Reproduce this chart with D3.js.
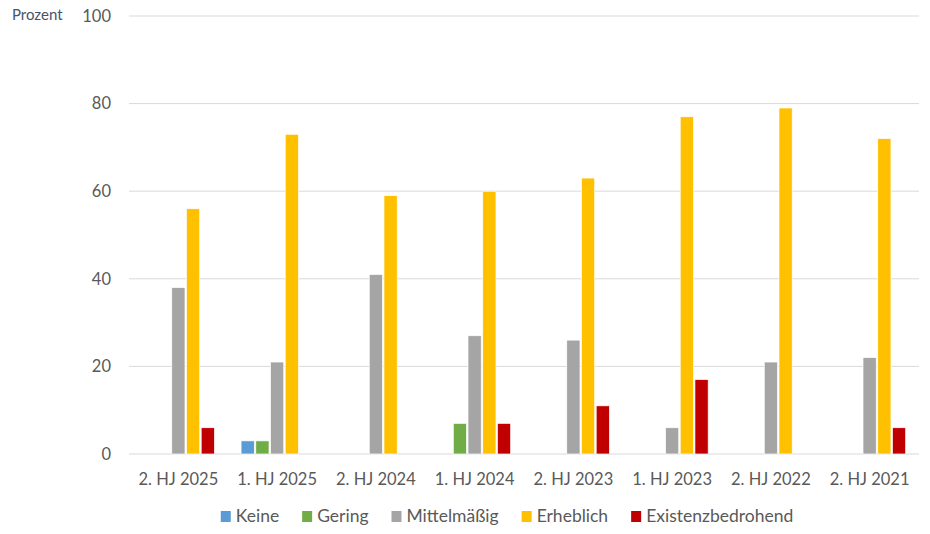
<!DOCTYPE html>
<html>
<head>
<meta charset="utf-8">
<script src="https://cdn.jsdelivr.net/npm/d3@7"></script>
<style>
body { margin: 0; background: #fff; }
text { font-family: Lato, "Open Sans", sans-serif; }
</style>
</head>
<body>
<div id="chart"></div>
<script>
var categories = ["2. HJ 2025", "1. HJ 2025", "2. HJ 2024", "1. HJ 2024", "2. HJ 2023", "1. HJ 2023", "2. HJ 2022", "2. HJ 2021"];
var seriesNames = ["Keine", "Gering", "Mittelmäßig", "Erheblich", "Existenzbedrohend"];
var seriesColors = ["#5B9BD5", "#70AD47", "#A5A5A5", "#FFC000", "#C00000"];
var keine = [0, 3, 0, 0, 0, 0, 0, 0];
var gering = [0, 3, 0, 7, 0, 0, 0, 0];
var mittel = [38, 21, 41, 27, 26, 6, 21, 22];
var erheblich = [56, 73, 59, 60, 63, 77, 79, 72];
var existenz = [6, 0, 0, 7, 11, 17, 0, 6];
var yTicks = [0, 20, 40, 60, 80, 100];

var seriesValues = [keine, gering, mittel, erheblich, existenz];

var margin = {top: 16, right: 11, bottom: 80, left: 129},
    width = 930 - margin.left - margin.right,
    height = 534 - margin.top - margin.bottom;

var svg = d3.select("#chart")
  .append("svg")
  .attr("width", 930)
  .attr("height", 534);

var g = svg.append("g")
  .attr("transform", "translate(" + margin.left + "," + margin.top + ")");

var x0 = d3.scaleBand()
  .domain(categories)
  .range([0, width])
  .paddingInner(0.24)
  .paddingOuter(0.12);

var x1 = d3.scaleBand()
  .domain(seriesNames)
  .range([0, x0.bandwidth()])
  .padding(0.1);

var y = d3.scaleLinear()
  .domain([0, 100])
  .range([height, 0]);

// gridlines
g.selectAll(".grid")
  .data(yTicks)
  .enter()
  .append("line")
  .attr("x1", 0)
  .attr("x2", width)
  .attr("y1", function(d) { return y(d); })
  .attr("y2", function(d) { return y(d); })
  .attr("stroke", "#D9D9D9")
  .attr("stroke-width", 1);

// y tick labels
g.selectAll(".ylab")
  .data(yTicks)
  .enter()
  .append("text")
  .attr("x", -18)
  .attr("y", function(d) { return y(d); })
  .attr("dy", "0.35em")
  .attr("text-anchor", "end")
  .attr("fill", "#595959")
  .style("font-size", "16.5px")
  .text(function(d) { return d; });

svg.append("text")
  .attr("x", 12)
  .attr("y", 15)
  .attr("dy", "0.35em")
  .attr("fill", "#44546A")
  .style("font-size", "15px")
  .text("Prozent");

// bars
var rows = [];
categories.forEach(function(c, i) {
  seriesNames.forEach(function(s, j) {
    rows.push({cat: c, series: s, color: seriesColors[j], value: seriesValues[j][i]});
  });
});

g.selectAll(".bar")
  .data(rows.filter(function(d) { return d.value > 0; }))
  .enter()
  .append("rect")
  .attr("x", function(d) { return x0(d.cat) + x1(d.series); })
  .attr("y", function(d) { return y(d.value); })
  .attr("width", x1.bandwidth())
  .attr("height", function(d) { return y(0) - y(d.value); })
  .attr("fill", function(d) { return d.color; })
  .attr("stroke", "#fff")
  .attr("stroke-width", 0.7);

// x labels
g.selectAll(".xlab")
  .data(categories)
  .enter()
  .append("text")
  .attr("x", function(d) { return x0(d) + x0.bandwidth() / 2; })
  .attr("y", height + 25)
  .attr("dy", "0.35em")
  .attr("text-anchor", "middle")
  .attr("fill", "#595959")
  .style("font-size", "16.5px")
  .text(function(d) { return d; });

// legend
var legend = svg.append("g");
var lx = 0;
seriesNames.forEach(function(s, j) {
  var item = legend.append("g").attr("transform", "translate(" + lx + ",0)");
  item.append("rect")
    .attr("x", 0).attr("y", -5)
    .attr("width", 10).attr("height", 11)
    .attr("fill", seriesColors[j]);
  var t = item.append("text")
    .attr("x", 15).attr("y", 0)
    .attr("dy", "0.35em")
    .attr("fill", "#595959")
    .style("font-size", "17.5px")
    .text(s);
  lx += 15 + t.node().getComputedTextLength() + 23;
});
var legendWidth = lx - 23;
legend.attr("transform", "translate(" + (507 - legendWidth / 2) + ",516)");
</script>
</body>
</html>
